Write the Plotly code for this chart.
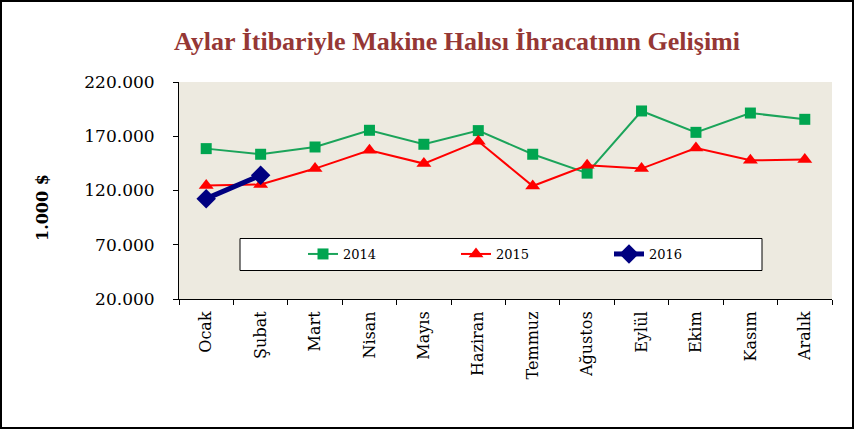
import plotly.graph_objects as go

months = ["Ocak", "Şubat", "Mart", "Nisan", "Mayıs", "Haziran", "Temmuz",
          "Ağustos", "Eylül", "Ekim", "Kasım", "Aralık"]
v2014 = [158600, 153400, 160100, 175500, 162600, 175200, 153400, 136000, 193300, 173600, 191400, 185600]
v2015 = [124500, 125500, 140200, 157000, 144800, 165300, 124100, 143200, 140200, 159200, 147800, 148500]
v2016 = [112500, 134000]
ytickvals = [20000, 70000, 120000, 170000, 220000]
yticktext = ["20.000", "70.000", "120.000", "170.000", "220.000"]

W, H = 854, 429
L, R, T, B = 179, 22, 82, 130
pw, ph = W - L - R, H - T - B

def px(x):
    return (x - L) / pw

def py(y):
    return (H - B - y) / ph

fig = go.Figure()
fig.add_trace(go.Scatter(x=months, y=v2014, name="2014", mode="lines+markers",
                         line=dict(color="#1BA45A", width=2),
                         marker=dict(symbol="square", size=11, color="#00A550")))
fig.add_trace(go.Scatter(x=months, y=v2015, name="2015", mode="lines+markers",
                         line=dict(color="#FF0000", width=2),
                         marker=dict(symbol="triangle-up", size=13, color="#FF0000")))
fig.add_trace(go.Scatter(x=months[:len(v2016)], y=v2016, name="2016", mode="lines+markers",
                         line=dict(color="#000080", width=5),
                         marker=dict(symbol="diamond", size=15, color="#000080")))

fig.update_layout(
    width=W, height=H,
    margin=dict(l=L, r=R, t=T, b=B),
    paper_bgcolor="white",
    plot_bgcolor="#EDEAE0",
    showlegend=True,
    legend=dict(orientation="h", x=px(303), y=py(254), xanchor="left", yanchor="middle",
                bgcolor="rgba(0,0,0,0)", borderwidth=0, entrywidth=108, entrywidthmode="pixels",
                font=dict(family="DejaVu Serif", size=13, color="black"),
                itemclick=False),
    xaxis=dict(type="category", showline=True, linecolor="black", linewidth=1,
               ticks="outside", ticklen=5, tickcolor="black", tickson="boundaries",
               tickangle=-90, showgrid=False, zeroline=False, ticklabelstandoff=5,
               tickfont=dict(family="DejaVu Serif", size=16, color="black"),
               range=[-0.5, 11.5]),
    yaxis=dict(range=[20000, 220000], tickvals=ytickvals, ticktext=yticktext,
               showline=True, linecolor="black", linewidth=1, ticks="outside",
               ticklen=5, tickcolor="black", showgrid=False, zeroline=False,
               ticklabelstandoff=15,
               tickfont=dict(family="DejaVu Serif", size=17, color="black")),
    shapes=[
        dict(type="rect", xref="paper", yref="paper", x0=px(240), x1=px(762),
             y0=py(270.5), y1=py(238.5), line=dict(color="black", width=1),
             fillcolor="white", layer="below"),
        dict(type="rect", xref="paper", yref="paper", x0=px(1), x1=px(853),
             y0=py(428), y1=py(1), line=dict(color="black", width=2)),
    ],
    annotations=[
        dict(text="<b>Aylar İtibariyle Makine Halısı İhracatının Gelişimi</b>", xref="paper", yref="paper",
             x=px(457), y=py(42), xanchor="center", yanchor="middle", showarrow=False,
             font=dict(family="Liberation Serif", size=26, color="#953735")),
        dict(text="<b>1.000 $</b>", xref="paper", yref="paper", x=px(42), y=py(208),
             xanchor="center", yanchor="middle", showarrow=False, textangle=-90,
             font=dict(family="DejaVu Serif", size=16, color="black")),
    ],
)

fig.write_html("out.html", config={"displayModeBar": False},
               post_script="document.body.style.margin='0';")
